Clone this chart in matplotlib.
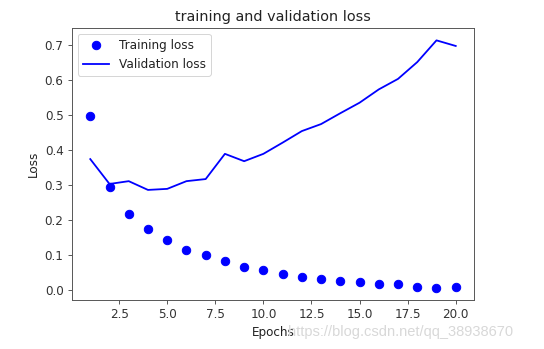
import matplotlib
matplotlib.use("Agg")
import matplotlib.pyplot as plt

epochs = list(range(1, 21))
training_loss = [0.498, 0.294, 0.217, 0.175, 0.142, 0.114, 0.100, 0.082, 0.067, 0.056,
                 0.046, 0.038, 0.031, 0.025, 0.022, 0.018, 0.018, 0.010, 0.007, 0.010]
validation_loss = [0.374, 0.303, 0.311, 0.286, 0.289, 0.311, 0.317, 0.389, 0.368, 0.389,
                   0.421, 0.454, 0.474, 0.505, 0.535, 0.573, 0.603, 0.651, 0.713, 0.697]

s = 1.2
plt.rcParams.update({
    'xtick.major.size': 3.5 * s, 'ytick.major.size': 3.5 * s,
    'xtick.major.width': 0.8 * s, 'ytick.major.width': 0.8 * s,
    'xtick.major.pad': 3.5 * s, 'ytick.major.pad': 3.5 * s,
    'axes.linewidth': 0.8 * s,
    'axes.edgecolor': '#555555',
    'xtick.color': '#555555', 'ytick.color': '#555555',
    'xtick.labelcolor': '#333333', 'ytick.labelcolor': '#333333',
    'text.color': '#222222', 'axes.labelcolor': '#222222',
})

W, H = 544, 349
fig = plt.figure(figsize=(W / 72, H / 72), dpi=72)
ax = fig.add_axes([72 / W, (H - 300) / H, (474 - 72) / W, (300 - 28) / H])

ax.plot(epochs, training_loss, 'bo', markersize=8.4, label='Training loss')
ax.plot(epochs, validation_loss, 'b', linewidth=1.8, label='Validation loss')
ax.set_title('training and validation loss', fontsize=14.4, pad=6 * s)
ax.set_xlabel('Epochs', fontsize=12, labelpad=4 * s)
ax.set_ylabel('Loss', fontsize=12, labelpad=4 * s)
ax.tick_params(labelsize=12)
ax.legend(loc='upper left', fontsize=12, borderaxespad=0.5, handlelength=2.2)

fig.text(513 / W, (H - 332) / H, 'https://blog.csdn.net/qq_38938670', color='#d8d8d8',
         fontsize=14.6, ha='right', va='center', family='Liberation Sans')

fig.savefig('out.png', dpi=72)
